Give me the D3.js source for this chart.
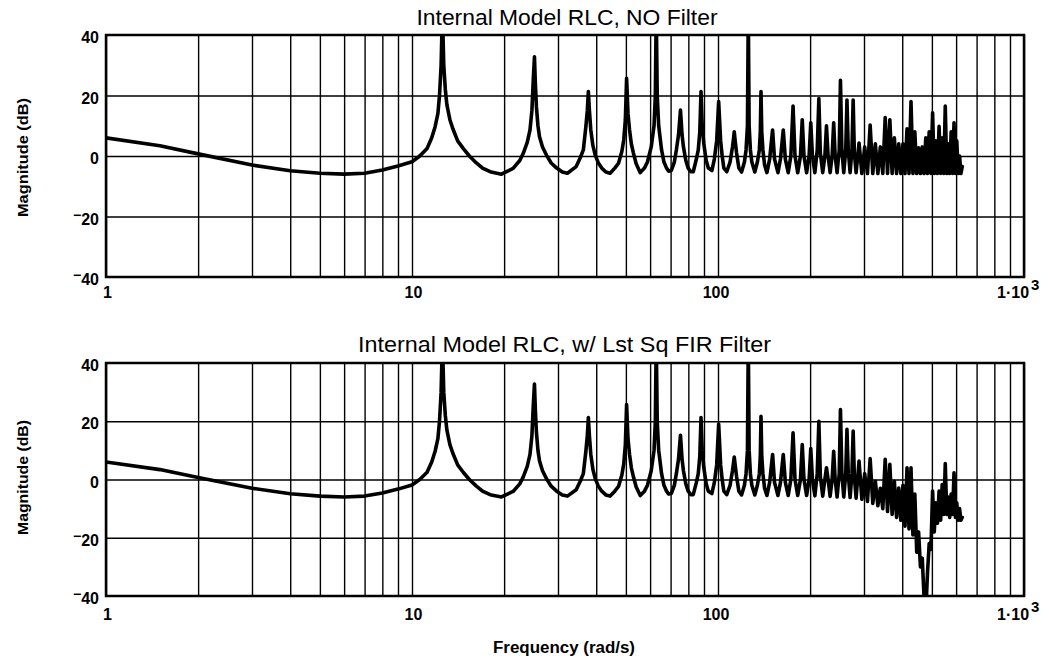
<!DOCTYPE html>
<html><head><meta charset="utf-8">
<script src="https://cdn.jsdelivr.net/npm/d3@7"></script>
<style>
body{margin:0;background:#fff}
text{font-family:"Liberation Sans",Arial,sans-serif;fill:#000}
</style>
</head><body>
<svg id="chart" width="1049" height="660"></svg>
<script>
// ---------- data ----------
const titleNoFilter = "Internal Model RLC, NO Filter";
const titleFir = "Internal Model RLC, w/ Lst Sq FIR Filter";
const yLabel = "Magnitude (dB)";
const xLabel = "Frequency (rad/s)";
const yTickValues = [-40, -20, 0, 20, 40];
const yGridValues = [-20, 0, 20];
const xGridValues = [1,2,3,4,5,6,7,8,9,10,20,30,40,50,60,70,80,90,100,200,300,400,500,600,700,800,900,1000];
const xTickValues = [1, 10, 100, 1000];

// low-frequency part, identical in both plots
const lowFreq = [1, 1.5, 2, 3, 4, 5, 6, 7, 8, 9,
  10, 10.6, 11.2, 11.6, 11.9, 12.15, 12.3, 12.45, 12.57, 12.7,
  12.85, 13, 13.3, 13.6, 14.1, 14.7, 15.4, 16.2, 17, 18,
  19.6, 21.4, 22.5, 23.1, 23.8, 24.3, 24.65, 24.9, 25.13, 25.3,
  25.5, 25.8, 26.1, 26.7, 27.5, 28.5, 29.7, 31, 32.2, 34.4,
  35.5, 36.3, 37, 37.4, 37.7, 38, 38.4, 39, 39.7, 40.6,
  41.7, 43, 44.4, 46, 47.3, 48.5, 49.2, 49.8, 50.27, 50.8,
  51.4, 52.1, 52.9, 54, 55.7, 57.5, 58.8, 60.5, 61.8, 62.4,
  62.83, 63.3, 64, 65.4, 66.6, 67.9, 69, 70.4, 72, 73.1,
  74.3, 75.4, 76.3, 77.1, 78.5, 79.9, 81.5, 83, 85, 86.2,
  87.2, 88, 88.8, 89.9, 91.5, 93, 95.5];
const lowMag = [6, 3.4, 0.7, -3, -4.9, -5.7, -6, -5.7, -4.6, -3.3,
  -1.9, 0, 2.5, 6, 9.7, 14, 20, 30, 48, 30,
  22, 17, 12, 9, 5, 2.5, 0, -2.2, -4, -5.2,
  -6, -4.1, -1.5, 0.9, 4.5, 8.6, 15, 25, 32.8, 24,
  16.3, 10, 6.4, 3, 0.3, -2.3, -4, -5.3, -5.7, -3.5,
  -0.5, 2, 9.7, 15, 21.3, 15, 8.6, 3.5, 0.3, -2.2,
  -4, -5.3, -5.7, -4, -2.4, 1.5, 5.3, 12, 25.7, 14,
  8.6, 4, 1, -2.5, -5.5, -4, -2, 3, 10, 20,
  48, 20, 10, 2, -2, -4, -5, -4.8, -2, 2,
  7, 15.2, 7, 3, -1.5, -4, -5.2, -5.2, -1, 2,
  8, 21.3, 10, 4, -1.5, -4, -4.8];

// high-frequency part (same frequencies for both plots)
const highFreq = [97.3, 99, 100.5, 102, 103.2, 104.5, 106.8, 109.5, 111.5, 112.3,
  113, 113.8, 115, 117, 119.4, 122, 123.5, 124.8, 125.6, 126.4,
  127.6, 129, 131.9, 134.5, 136.5, 137.5, 138.2, 139, 140.2, 142,
  144.5, 147.5, 150.8, 153, 157, 160, 163.4, 166, 169.6, 173,
  175.9, 178.5, 182.2, 186, 188.5, 191, 194.8, 198.5, 201, 203.5,
  207.3, 211, 213.6, 216, 219.9, 223.5, 226.2, 229, 232.5, 236,
  238.8, 241.5, 245, 249, 251.3, 254, 257.6, 261.5, 263.9, 266.5,
  270.2, 274, 276.5, 279, 282.7, 289, 295.3, 301.6, 307.9, 314.2,
  320.5, 326.7, 333, 339.3, 345.6, 351.9, 358.1, 364.4, 370.7, 377,
  383.3, 389.6, 395.8, 402.1, 408.4, 414.7, 421, 427.3, 433.5, 439.8,
  446.1, 452.4, 458.7, 465, 471.2, 477.5, 483.8, 490, 496.4, 502.7,
  509, 515, 521.5, 527.8, 534.1, 540.4, 546.7, 553, 559.2, 565.5,
  571.8, 578, 584.3, 590.6, 596.9, 603, 609.5, 615.8, 622, 628.3];
const highMagNoFilter = [-1, 5, 18, 5, 0, -4, -5.2, -2, 3, 5.5,
  8, 5, 1, -4, -5.3, -2, 2, 10, 48, 10,
  2, -2, -5.3, -2, 2, 8, 21.3, 8, 2, -3,
  -5.5, -1, 8.6, -1, -5.5, -1, 8.6, -1, -5.5, 0,
  16.5, 0, -5.5, 0, 12, 0, -5.5, 0, 11, 0,
  -5.5, 2, 19, 1, -5.5, 0, 10, 0, -5.5, 0,
  11, 0, -5.5, 2, 25, 2, -5.5, 2, 18.5, 2,
  -5.5, 2, 18.5, 1, -5.5, 4.3, -5.8, 3, -5.8, 10.2,
  -5.8, 4, -5.8, 3, -5.8, 12.7, -5.8, 12, -5.8, 6,
  -5.8, 4, -5.8, 4, -5.8, 9, -5.8, 18, -5.8, 8,
  -5.8, 2.7, -5.8, 3, -5.8, 6, -5.8, 8, -5.8, 14.3,
  -5.8, 5, -5.8, 9.8, -5.8, 6, -5.8, 16.5, -5.8, 4,
  -5.8, 8, -5.8, 11, -5.8, 5, -5.8, 0, -5.8, -3.5];
const highMagFir = [-1, 5, 19, 5, 0, -4, -5.2, -2, 3, 5.5,
  7.7, 5, 1, -4, -5.3, -2, 2, 10, 48, 10,
  2, -2, -5.3, -2, 2, 8, 21.7, 8, 2, -3,
  -5.5, -1, 8.6, -1, -5.5, -1, 8.6, -1, -5.5, 0,
  16, 0, -5.5, 0, 12, 0, -5.5, 0, 10.6, 0,
  -5.6, 2, 20, 1, -5.7, 0, 4, 0, -5.8, 0,
  9.7, 0, -6, 2, 24, 2, -6, 2, 17.2, 2,
  -6.2, 2, 16.6, 1, -6.4, 6.3, -6.8, 2, -7.5, 7.2,
  -8.2, -0.6, -9, -3, -10, 6.9, -11, 5.2, -12, -0.6,
  -13, -2.9, -14, -2, -16, 4, -17, 4, -19, -5,
  -25, -18, -30, -27, -40, -46, -32, -22, -24, -4,
  -18, -8, -15, -4, -14, -1.7, -12, 5.5, -12, -6,
  -13, -5, -12, 2.3, -13, -8, -14, -10, -14, -13];

// ---------- drawing ----------
const svg = d3.select("#chart");
const xL = 106, xR = 1024;
const panels = [
  {title: titleNoFilter, top: 35, bottom: 277, titleX: 567, titleY: 25, titleLen: 301, tickY: 298, ylabY: 157.5, ylabLen: 119, mags: highMagNoFilter},
  {title: titleFir, top: 363, bottom: 596, titleX: 564.5, titleY: 352, titleLen: 413, tickY: 620, ylabY: 477.5, ylabLen: 115, mags: highMagFir}
];
const x = d3.scaleLog().domain([1, 1000]).range([xL, xR]);

panels.forEach((p, i) => {
  const y = d3.scaleLinear().domain([-40, 40]).range([p.bottom, p.top]);
  const g = svg.append("g");

  // grid
  const gx = g.append("g").attr("transform", `translate(0,${p.bottom})`)
    .call(d3.axisBottom(x).tickValues(xGridValues).tickSize(-(p.bottom - p.top)).tickFormat(""));
  gx.select(".domain").remove();
  gx.selectAll("line").attr("stroke", "#000").attr("stroke-width", 1.4);
  const gy = g.append("g").attr("transform", `translate(${xL},0)`)
    .call(d3.axisLeft(y).tickValues(yGridValues).tickSize(-(xR - xL)).tickFormat(""));
  gy.select(".domain").remove();
  gy.selectAll("line").attr("stroke", "#000").attr("stroke-width", 1.4);

  // curve
  const clipId = "clip" + i;
  svg.append("clipPath").attr("id", clipId).append("rect")
    .attr("x", xL).attr("y", p.top).attr("width", xR - xL).attr("height", p.bottom - p.top);
  const data = lowFreq.map((f, k) => [f, lowMag[k]])
    .concat(highFreq.map((f, k) => [f, p.mags[k]]));
  g.append("path").datum(data)
    .attr("clip-path", `url(#${clipId})`)
    .attr("fill", "none").attr("stroke", "#000").attr("stroke-width", 3.6)
    .attr("stroke-linejoin", "round").attr("stroke-linecap", "round")
    .attr("d", d3.line().x(d => x(d[0])).y(d => y(d[1])));

  // frame
  g.append("rect").attr("x", xL).attr("y", p.top).attr("width", xR - xL).attr("height", p.bottom - p.top)
    .attr("fill", "none").attr("stroke", "#000").attr("stroke-width", 2.5);

  // y tick labels
  yTickValues.forEach(v => {
    const t = g.append("text").attr("x", 99).attr("y", y(v) + 8)
      .attr("text-anchor", "end").attr("font-size", 16).attr("font-weight", "bold");
    if (v < 0) {
      t.append("tspan").attr("dy", -5).attr("font-size", 14).text("\u2212");
      t.append("tspan").attr("dy", 5).text(String(-v));
    } else t.text(String(v));
  });

  // x tick labels
  xTickValues.forEach(v => {
    if (v === 1000) {
      const t = g.append("text").attr("x", x(v) - 27).attr("y", p.tickY)
        .attr("font-size", 16).attr("font-weight", "bold");
      t.append("tspan").text("1\u00b710");
      t.append("tspan").attr("dy", -8).attr("dx", 2).attr("font-size", 15).text("3");
    } else {
      g.append("text").attr("x", x(v) + (v === 100 ? -2 : 1.5)).attr("y", p.tickY)
        .attr("text-anchor", "middle").attr("font-size", 16).attr("font-weight", "bold").text(String(v));
    }
  });

  // title
  g.append("text").attr("x", p.titleX).attr("y", p.titleY)
    .attr("text-anchor", "middle").attr("font-size", 22)
    .attr("textLength", p.titleLen).attr("lengthAdjust", "spacingAndGlyphs").text(p.title);

  // y label
  g.append("text").attr("transform", `translate(28,${p.ylabY}) rotate(-90)`)
    .attr("text-anchor", "middle").attr("font-size", 15).attr("font-weight", "bold")
    .attr("textLength", p.ylabLen).attr("lengthAdjust", "spacingAndGlyphs").text(yLabel);
});

svg.append("text").attr("x", 564).attr("y", 653).attr("text-anchor", "middle")
  .attr("font-size", 16).attr("font-weight", "bold")
  .attr("textLength", 142).attr("lengthAdjust", "spacingAndGlyphs").text(xLabel);
</script>
</body></html>
